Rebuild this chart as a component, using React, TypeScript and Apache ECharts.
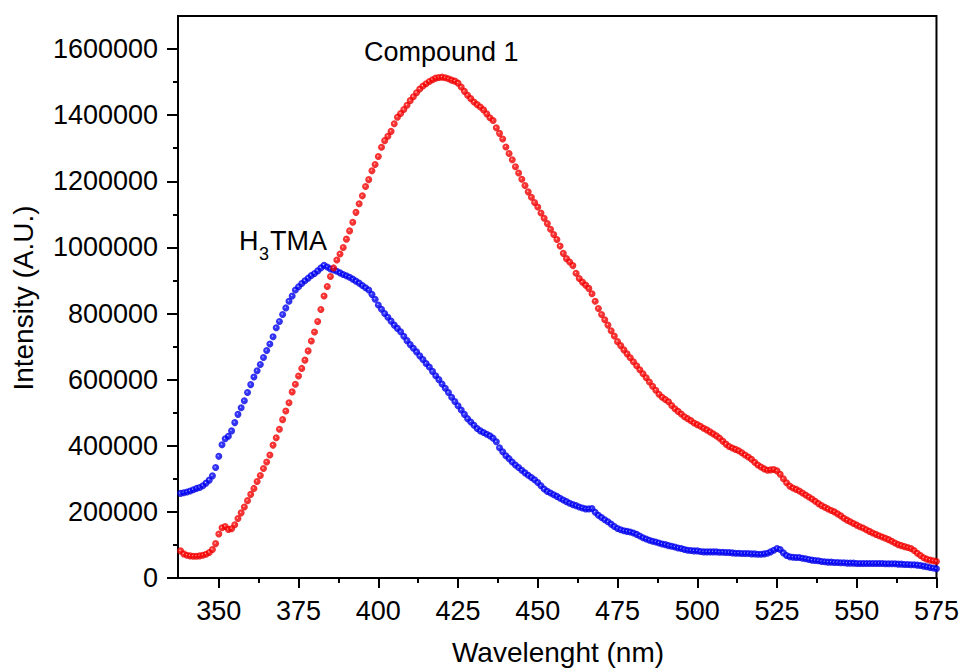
import React, { useEffect, useRef } from "react";
import * as echarts from "echarts";

const START_NM = 338;

const h3tmaValues = [
  256000, 258000, 260000, 263000, 267000, 271000, 274000, 279000, 287000, 296000,
  309000, 334000, 368000, 403000, 421000, 429000, 445000, 470000, 495000, 515000,
  536000, 561000, 585000, 608000, 627000, 646000, 667000, 688000, 708000, 730000,
  757000, 776000, 797000, 817000, 837000, 853000, 871000, 881000, 891000, 899000,
  907000, 915000, 921000, 929000, 938000, 946000, 941000, 935000, 932000, 928000,
  923000, 918000, 914000, 910000, 904000, 898000, 892000, 885000, 878000, 871000,
  858000, 843000, 826000, 813000, 800000, 789000, 777000, 765000, 755000, 745000,
  731000, 718000, 706000, 695000, 684000, 672000, 661000, 649000, 638000, 625000,
  612000, 600000, 587000, 574000, 561000, 547000, 534000, 521000, 508000, 495000,
  482000, 472000, 462000, 452000, 445000, 440000, 435000, 430000, 423000, 412000,
  394000, 382000, 370000, 361000, 351000, 342000, 334000, 326000, 318000, 311000,
  304000, 297000, 289000, 279000, 269000, 262000, 257000, 252000, 247000, 241000,
  236000, 231000, 226000, 222000, 219000, 215000, 212000, 209000, 209000, 210000,
  199000, 190000, 183000, 176000, 170000, 163000, 156000, 150000, 146000, 143000,
  141000, 139000, 136000, 132000, 127000, 122000, 118000, 114000, 111000, 109000,
  106000, 103000, 101000, 98000, 96000, 94000, 91000, 89000, 86000, 84000,
  83000, 82000, 82000, 80000, 79000, 79000, 79000, 79000, 79000, 78000,
  78000, 77000, 77000, 76000, 75000, 75000, 74000, 74000, 74000, 73000,
  73000, 72000, 72000, 73000, 75000, 79000, 84000, 89000, 86000, 76000,
  68000, 64000, 63000, 62000, 62000, 60000, 58000, 56000, 54000, 53000,
  52000, 50000, 49000, 48000, 48000, 47000, 47000, 46000, 46000, 45000,
  45000, 45000, 44000, 44000, 44000, 44000, 44000, 44000, 44000, 44000,
  44000, 43000, 43000, 43000, 43000, 42000, 42000, 41000, 41000, 40000,
  40000, 39000, 38000, 36000, 34000, 32000, 30000, 28000,
];

const compound1Values = [
  82000, 73000, 69000, 67000, 66000, 66000, 67000, 69000, 72000, 77000,
  86000, 104000, 133000, 152000, 156000, 147000, 149000, 161000, 180000, 197000,
  215000, 234000, 253000, 271000, 292000, 310000, 331000, 351000, 372000, 402000,
  424000, 450000, 479000, 505000, 530000, 563000, 586000, 611000, 634000, 659000,
  687000, 717000, 744000, 776000, 812000, 853000, 882000, 912000, 938000, 962000,
  980000, 1000000, 1025000, 1050000, 1076000, 1106000, 1132000, 1156000, 1184000, 1205000,
  1232000, 1251000, 1275000, 1303000, 1323000, 1336000, 1351000, 1374000, 1394000, 1405000,
  1417000, 1430000, 1444000, 1456000, 1468000, 1479000, 1488000, 1495000, 1502000, 1507000,
  1512000, 1514000, 1515000, 1513000, 1510000, 1506000, 1503000, 1497000, 1485000, 1472000,
  1460000, 1450000, 1440000, 1432000, 1425000, 1416000, 1404000, 1392000, 1384000, 1362000,
  1345000, 1328000, 1304000, 1284000, 1265000, 1244000, 1225000, 1206000, 1187000, 1168000,
  1152000, 1136000, 1122000, 1104000, 1088000, 1072000, 1055000, 1039000, 1024000, 1004000,
  982000, 966000, 956000, 945000, 922000, 906000, 895000, 886000, 876000, 860000,
  837000, 815000, 797000, 781000, 765000, 748000, 732000, 715000, 703000, 690000,
  678000, 666000, 654000, 642000, 630000, 618000, 606000, 593000, 580000, 568000,
  556000, 547000, 540000, 533000, 522000, 512000, 504000, 496000, 488000, 482000,
  476000, 469000, 464000, 459000, 453000, 448000, 442000, 436000, 430000, 423000,
  414000, 405000, 398000, 393000, 389000, 385000, 379000, 372000, 366000, 359000,
  350000, 342000, 336000, 330000, 326000, 327000, 328000, 324000, 314000, 300000,
  288000, 278000, 272000, 268000, 263000, 257000, 251000, 245000, 239000, 232000,
  225000, 219000, 214000, 209000, 204000, 200000, 194000, 188000, 181000, 175000,
  170000, 165000, 160000, 155000, 151000, 146000, 141000, 136000, 132000, 128000,
  124000, 120000, 116000, 111000, 106000, 101000, 98000, 95000, 92000, 89000,
  83000, 75000, 68000, 61000, 57000, 54000, 52000, 50000,
];

const xMajorTicks = [350, 375, 400, 425, 450, 475, 500, 525, 550, 575];
const xMinorTicks = [362.5, 387.5, 412.5, 437.5, 462.5, 487.5, 512.5, 537.5, 562.5];
const yMajorTicks = [0, 200000, 400000, 600000, 800000, 1000000, 1200000, 1400000, 1600000];
const yMinorTicks = [100000, 300000, 500000, 700000, 900000, 1100000, 1300000, 1500000];

const X_MIN = 337.2;
const X_MAX = 575;
const Y_MIN = 0;
const Y_MAX = 1700000;

const FONT = "Arial, 'Liberation Sans', sans-serif";

function toPairs(values: number[]) {
  return values.map((v, i) => [START_NM + i, v]);
}

function sphere(main: string, light: string, dark: string) {
  return new echarts.graphic.RadialGradient(0.42, 0.42, 0.6, [
    { offset: 0, color: light },
    { offset: 0.28, color: main },
    { offset: 1, color: dark },
  ]);
}

export default function App() {
  const ref = useRef<HTMLDivElement>(null);

  useEffect(() => {
    if (!ref.current) return;
    const chart = echarts.init(ref.current, null, { renderer: "svg" });
    const axisLine = { show: true, lineStyle: { color: "#000", width: 2 } };
    const option: any = {
      animation: false,
      backgroundColor: "#fff",
      grid: {
        left: 178,
        right: 25,
        top: 16,
        bottom: 91,
        show: true,
        borderColor: "#000",
        borderWidth: 2,
        backgroundColor: "transparent",
      },
      xAxis: [
        {
          type: "value",
          min: X_MIN,
          max: X_MAX,
          axisLine,
          splitLine: { show: false },
          axisTick: {
            show: true,
            customValues: xMajorTicks,
            length: 10,
            lineStyle: { color: "#000", width: 2 },
          },
          axisLabel: {
            customValues: xMajorTicks,
            margin: 19,
            color: "#000",
            fontSize: 27,
            fontFamily: FONT,
            formatter: (v: number) => String(v),
          },
        },
        {
          type: "value",
          min: X_MIN,
          max: X_MAX,
          position: "bottom",
          axisLine: { show: false },
          splitLine: { show: false },
          axisLabel: { show: false },
          axisTick: {
            show: true,
            customValues: xMinorTicks,
            length: 5,
            lineStyle: { color: "#000", width: 2 },
          },
        },
      ],
      yAxis: [
        {
          type: "value",
          min: Y_MIN,
          max: Y_MAX,
          axisLine,
          splitLine: { show: false },
          axisTick: {
            show: true,
            customValues: yMajorTicks,
            length: 11,
            lineStyle: { color: "#000", width: 2 },
          },
          axisLabel: {
            customValues: yMajorTicks,
            margin: 20,
            color: "#000",
            fontSize: 27,
            fontFamily: FONT,
            formatter: (v: number) => String(v),
          },
        },
        {
          type: "value",
          min: Y_MIN,
          max: Y_MAX,
          position: "left",
          axisLine: { show: false },
          splitLine: { show: false },
          axisLabel: { show: false },
          axisTick: {
            show: true,
            customValues: yMinorTicks,
            length: 5,
            lineStyle: { color: "#000", width: 2 },
          },
        },
      ],
      series: [
        {
          name: "H3TMA",
          type: "scatter",
          xAxisIndex: 0,
          yAxisIndex: 0,
          symbol: "circle",
          symbolSize: 7,
          data: toPairs(h3tmaValues),
          itemStyle: { color: sphere("#0000ff", "#b8c4ff", "#0000d8") },
        },
        {
          name: "Compound 1",
          type: "scatter",
          xAxisIndex: 0,
          yAxisIndex: 0,
          symbol: "circle",
          symbolSize: 7,
          data: toPairs(compound1Values),
          itemStyle: { color: sphere("#ff0000", "#ffc8c8", "#e00000") },
        },
      ],
      graphic: [
        {
          type: "text",
          x: 364,
          y: 52,
          style: {
            text: "Compound 1",
            fontSize: 27,
            fontFamily: FONT,
            fill: "#000",
            textVerticalAlign: "middle",
          },
        },
        {
          type: "text",
          x: 239,
          y: 241,
          style: {
            text: "H",
            fontSize: 27,
            fontFamily: FONT,
            fill: "#000",
            textVerticalAlign: "middle",
          },
        },
        {
          type: "text",
          x: 259,
          y: 254,
          style: {
            text: "3",
            fontSize: 18,
            fontFamily: FONT,
            fill: "#000",
            textVerticalAlign: "middle",
          },
        },
        {
          type: "text",
          x: 270,
          y: 241,
          style: {
            text: "TMA",
            fontSize: 27,
            fontFamily: FONT,
            fill: "#000",
            textVerticalAlign: "middle",
          },
        },
        {
          type: "text",
          x: 558,
          y: 652,
          style: {
            text: "Wavelenght (nm)",
            fontSize: 28,
            fontFamily: FONT,
            fill: "#000",
            textAlign: "center",
            textVerticalAlign: "middle",
          },
        },
        {
          type: "text",
          x: 23,
          y: 298,
          rotation: Math.PI / 2,
          style: {
            text: "Intensity (A.U.)",
            fontSize: 28,
            fontFamily: FONT,
            fill: "#000",
            textAlign: "center",
            textVerticalAlign: "middle",
          },
        },
      ],
    };
    chart.setOption(option);
    return () => chart.dispose();
  }, []);

  return (
    <div
      ref={ref}
      style={{ position: "absolute", left: 0, top: 0, width: 962, height: 669, background: "#fff" }}
    />
  );
}
